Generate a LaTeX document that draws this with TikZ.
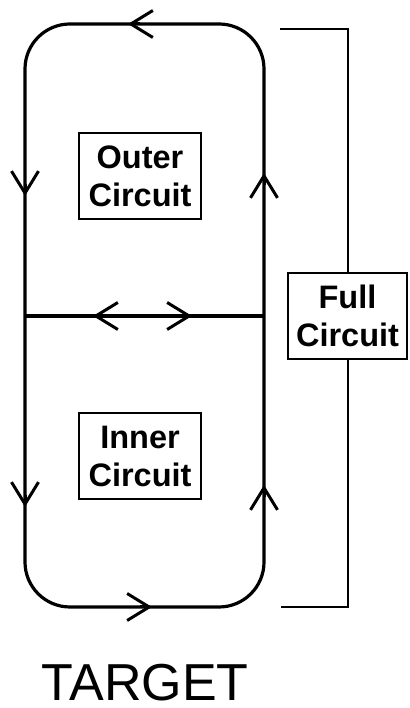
\documentclass[tikz,border=0pt]{standalone}
\usepackage{fontspec}
\setmainfont{Liberation Sans}
\usetikzlibrary{arrows.meta}
\begin{document}
\begin{tikzpicture}[x=1pt,y=1pt,
  wire/.style={line width=3.2pt},
  barb/.style={line width=3pt,-{Straight Barb[length=22pt,width=27pt,line width=3pt]}},
  label box/.style={draw,line width=2pt,align=center,inner sep=0pt,
    minimum height=86pt,font=\bfseries\fontsize{32.5}{38}\selectfont},
  bracket/.style={line width=2pt}]
\useasboundingbox (0,0) rectangle (409,708);
% loop
\draw[wire,rounded corners=45pt] (25,684) rectangle (264,101);
\draw[wire] (25,392) -- (264,392);
% arrows
\draw[barb] (140,684) -- (128,684);
\draw[barb] (25,524) -- (25,512);
\draw[barb] (25,213) -- (25,201);
\draw[barb] (264,523) -- (264,535);
\draw[barb] (264,211) -- (264,223);
\draw[barb] (140,101) -- (152,101);
\draw[barb] (105,392) -- (93,392);
\draw[barb] (180,392) -- (192,392);
% labels
\node[label box,minimum width=122pt] (outer) at (140,532) {Outer\\Circuit};
\node[label box,minimum width=122pt] (inner) at (140,252) {Inner\\Circuit};
\node[label box,minimum width=119pt] (full) at (347.5,392) {Full\\Circuit};
% bracket
\coordinate (bt) at (280,679);
\coordinate (bb) at (281,101);
\draw[bracket] (bt) -| (full.north);
\draw[bracket] (full.south) |- (bb);
\node[anchor=base,font=\fontsize{52}{60}\selectfont,inner sep=0pt] (target) at (145,7) {TARGET};
\end{tikzpicture}
\end{document}
